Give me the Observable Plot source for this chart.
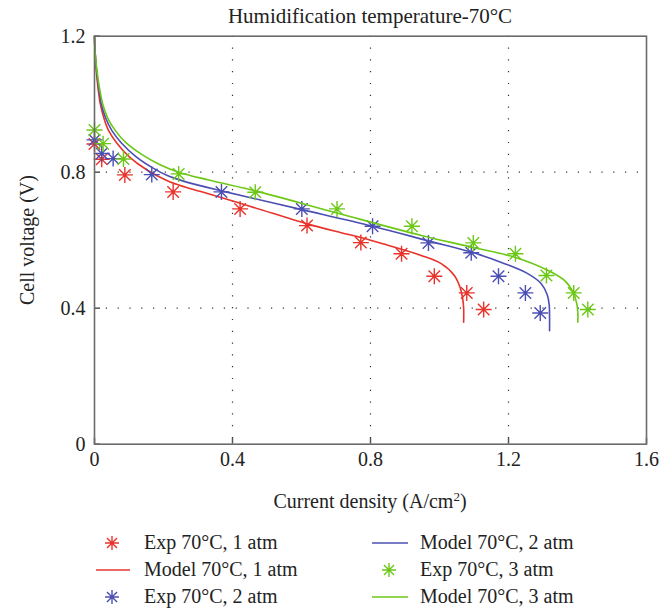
<!DOCTYPE html>
<html>
<head>
<meta charset="utf-8">
<script src="https://cdn.jsdelivr.net/npm/d3@7"></script>
<script src="https://cdn.jsdelivr.net/npm/@observablehq/plot@0.6"></script>
<style>
  html, body { margin: 0; padding: 0; background: #fff; }
  #wrap { position: relative; width: 659px; height: 610px; font-family: "Liberation Serif", "DejaVu Serif", serif; color: #222; }
  #title { position: absolute; left: 94px; width: 552px; top: 1px; line-height: 30px; font-size: 21px; text-align: center; }
  #chart { position: absolute; left: 0; top: 30px; }
  #ylabel { position: absolute; left: 27px; top: 240px; font-size: 20px; white-space: nowrap; transform: translate(-50%, -50%) rotate(-90deg); line-height: 24px; }
  #xlabel { position: absolute; left: 94px; width: 552px; top: 489px; line-height: 24px; font-size: 20px; text-align: center; }
  #xlabel sup { font-size: 13px; line-height: 0; vertical-align: 0.55em; }
  .leg { position: absolute; height: 27px; line-height: 27px; font-size: 20px; white-space: nowrap; }
  .leg svg { position: absolute; top: 0; }
  .leg span { position: absolute; top: 0; }
</style>
</head>
<body>
<div id="wrap">
  <div id="title"></div>
  <div id="chart"></div>
  <div id="ylabel"></div>
  <div id="xlabel"></div>
  <div id="legend"></div>
</div>
<script>
// ---- Data ----
const titleText = "Humidification temperature-70°C";
const yLabelText = "Cell voltage (V)";
const xLabelText = "Current density (A/cm";
const xTicks = [0, 0.4, 0.8, 1.2, 1.6];
const yTicks = [0, 0.4, 0.8, 1.2];
const xTickLabels = ["0", "0.4", "0.8", "1.2", "1.6"];
const yTickLabels = ["0", "0.4", "0.8", "1.2"];

// Experimental points
const exp1X = [0.0, 0.021, 0.088, 0.228, 0.422, 0.616, 0.772, 0.890, 0.985, 1.079, 1.128];
const exp1Y = [0.883, 0.838, 0.792, 0.742, 0.692, 0.643, 0.593, 0.560, 0.494, 0.445, 0.396];
const exp2X = [0.0, 0.021, 0.054, 0.166, 0.368, 0.601, 0.806, 0.968, 1.092, 1.171, 1.249, 1.292];
const exp2Y = [0.895, 0.855, 0.840, 0.793, 0.742, 0.692, 0.641, 0.592, 0.563, 0.494, 0.445, 0.386];
const exp3X = [0.0, 0.025, 0.084, 0.244, 0.466, 0.703, 0.920, 1.098, 1.220, 1.310, 1.389, 1.430];
const exp3Y = [0.924, 0.884, 0.839, 0.795, 0.741, 0.692, 0.641, 0.592, 0.560, 0.496, 0.445, 0.396];

// Model curves
const mod1X = [0, 0.002, 0.005, 0.010, 0.017, 0.027, 0.041, 0.065, 0.10, 0.15, 0.211, 0.26, 0.308, 0.45, 0.616, 0.715, 0.772, 0.85, 0.947, 1.005, 1.043, 1.060, 1.067, 1.070, 1.070];
const mod1Y = [1.2, 1.15, 1.10, 1.05, 1.00, 0.96, 0.922, 0.885, 0.846, 0.808, 0.775, 0.757, 0.743, 0.700, 0.648, 0.622, 0.608, 0.585, 0.555, 0.531, 0.496, 0.460, 0.430, 0.40, 0.359];
const mod2X = [0, 0.002, 0.006, 0.012, 0.020, 0.032, 0.050, 0.078, 0.12, 0.17, 0.211, 0.26, 0.368, 0.601, 0.806, 0.968, 1.092, 1.189, 1.257, 1.295, 1.312, 1.318, 1.319, 1.319];
const mod2Y = [1.2, 1.15, 1.10, 1.05, 1.00, 0.96, 0.923, 0.886, 0.846, 0.812, 0.790, 0.773, 0.745, 0.690, 0.641, 0.598, 0.565, 0.531, 0.501, 0.472, 0.440, 0.410, 0.38, 0.334];
const mod3X = [0, 0.002, 0.007, 0.014, 0.024, 0.038, 0.060, 0.092, 0.14, 0.19, 0.244, 0.331, 0.466, 0.703, 0.947, 1.092, 1.218, 1.315, 1.363, 1.388, 1.398, 1.401, 1.401];
const mod3Y = [1.2, 1.15, 1.10, 1.05, 1.00, 0.96, 0.923, 0.886, 0.850, 0.822, 0.800, 0.777, 0.745, 0.680, 0.614, 0.580, 0.550, 0.511, 0.481, 0.445, 0.413, 0.385, 0.359];

const colors = ["#e8332b", "#4b4fb3", "#6cc816"];
const legendLabels = ["Exp 70°C, 1 atm", "Model 70°C, 1 atm", "Exp 70°C, 2 atm", "Model 70°C, 2 atm", "Exp 70°C, 3 atm", "Model 70°C, 3 atm"];
const legendKinds = ["exp", "model", "exp", "model", "exp", "model"];
const legendColorIdx = [0, 0, 1, 1, 2, 2];

// ---- Build tables ----
const zip = (xs, ys, s) => xs.map((x, i) => ({x, y: ys[i], s}));
const expSets = [zip(exp1X, exp1Y, 0), zip(exp2X, exp2Y, 1), zip(exp3X, exp3Y, 2)];
const modSets = [zip(mod1X, mod1Y, 0), zip(mod2X, mod2Y, 1), zip(mod3X, mod3Y, 2)];

const star8 = {
  draw(ctx, size) {
    const r = Math.sqrt(size / Math.PI);
    const d = r * 0.72;
    ctx.moveTo(-r, 0); ctx.lineTo(r, 0);
    ctx.moveTo(0, -r); ctx.lineTo(0, r);
    ctx.moveTo(-d, -d); ctx.lineTo(d, d);
    ctx.moveTo(-d, d); ctx.lineTo(d, -d);
  }
};

const W = 659, H = 460;
const mTop = 5.7, mBottom = 46.3, mLeft = 94, mRight = 13;
const plotH = H - mTop - mBottom, plotW = W - mLeft - mRight;

const marks = [
  Plot.ruleX(xTicks.slice(1, -1), {stroke: "#333", strokeWidth: 1.2, strokeDasharray: "1.2,10.6"}),
  Plot.ruleY(yTicks.slice(1, -1), {stroke: "#333", strokeWidth: 1.2, strokeDasharray: "1.2,10.6"}),
  Plot.tickX(xTicks, {x: d => d, insetTop: plotH - 6, stroke: "#555", strokeWidth: 1.5}),
  Plot.tickY(yTicks, {y: d => d, insetRight: plotW - 6, stroke: "#555", strokeWidth: 1.5}),
  Plot.axisX({ticks: xTicks, tickSize: 0, tickPadding: 8, tickFormat: (d, i) => xTickLabels[i], label: null, fontSize: 20}),
  Plot.axisY({ticks: yTicks, tickSize: 0, tickPadding: 9, tickFormat: (d, i) => yTickLabels[i], label: null, fontSize: 20}),
];
for (let s = 0; s < 3; s++) {
  marks.push(Plot.line(modSets[s], {x: "x", y: "y", stroke: colors[s], strokeWidth: 1.6, curve: "catmull-rom"}));
  marks.push(Plot.dot(expSets[s], {x: "x", y: "y", stroke: colors[s], symbol: star8, r: 8, strokeWidth: 1.4}));
}
marks.push(Plot.frame({stroke: "#6b6b6b", strokeWidth: 1.6}));

const chart = Plot.plot({
  width: W, height: H,
  marginTop: mTop, marginBottom: mBottom, marginLeft: mLeft, marginRight: mRight,
  x: {domain: [0, 1.6]},
  y: {domain: [0, 1.2]},
  style: {fontFamily: "Liberation Serif, DejaVu Serif, serif", fontSize: "20px", color: "#222", background: "transparent", overflow: "visible"},
  marks
});
document.getElementById("chart").appendChild(chart);

document.getElementById("title").textContent = titleText;
document.getElementById("ylabel").textContent = yLabelText;
const xl = document.getElementById("xlabel");
xl.textContent = xLabelText;
const sup = document.createElement("sup"); sup.textContent = "2"; xl.appendChild(sup);
xl.appendChild(document.createTextNode(")"));

// ---- Legend ----
const legend = d3.select("#legend");
const colLeft = [{sym: 112, line: [96, 130], text: 144}, {sym: 389, line: [372, 408], text: 420}];
const rowTops = [529, 556, 583];
legendLabels.forEach((lab, i) => {
  const col = colLeft[Math.floor(i / 3)];
  const row = rowTops[i % 3];
  const c = colors[legendColorIdx[i]];
  const item = legend.append("div").attr("class", "leg").style("left", "0px").style("top", row + "px").style("width", "659px");
  const svg = item.append("svg").attr("width", 659).attr("height", 27).style("left", "0px");
  if (legendKinds[i] === "exp") {
    const r = 7, d = r * 0.72, cx = col.sym, cy = 14;
    svg.append("path")
      .attr("d", `M${cx - r},${cy}H${cx + r}M${cx},${cy - r}V${cy + r}M${cx - d},${cy - d}L${cx + d},${cy + d}M${cx - d},${cy + d}L${cx + d},${cy - d}`)
      .attr("stroke", c).attr("stroke-width", 1.4).attr("fill", "none");
  } else {
    svg.append("line").attr("x1", col.line[0]).attr("x2", col.line[1]).attr("y1", 14).attr("y2", 14)
      .attr("stroke", c).attr("stroke-width", 1.6);
  }
  item.append("span").style("left", col.text + "px").text(lab);
});
</script>
</body>
</html>
